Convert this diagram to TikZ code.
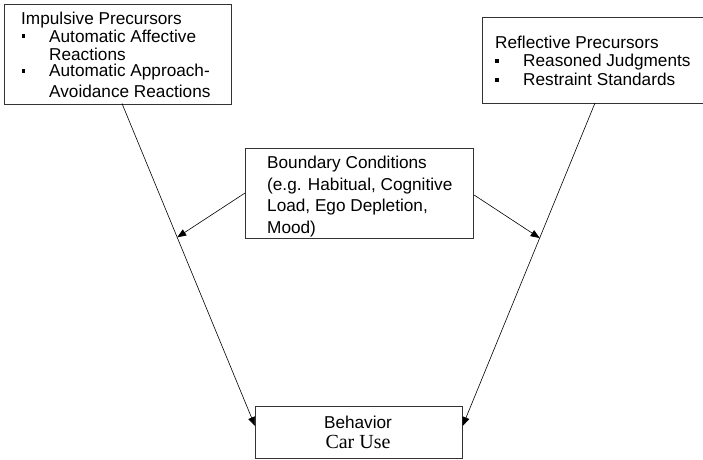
\documentclass[tikz,border=0pt]{standalone}
\usepackage{fontspec}
\setmainfont{Liberation Sans}
\newfontfamily\timesfont{Liberation Serif}
\usetikzlibrary{arrows.meta,calc}
\begin{document}
\begin{tikzpicture}[x=1pt,y=-1pt,
  boxframe/.style={draw=black!80,line width=1.1pt,inner sep=0pt,anchor=north west},
  txt/.style={anchor=base west,inner sep=0pt,font=\fontsize{17.2}{20}\selectfont},
  ctxt/.style={anchor=base,inner sep=0pt,font=\fontsize{17.2}{20}\selectfont},
  bul/.style={fill=black,inner sep=0pt,minimum size=3.6pt},
  link/.style={line width=0.6pt,-{Triangle[length=9pt,width=7pt]}}]
\useasboundingbox (0,0) rectangle (703,459);

% Impulsive precursors
\node[boxframe,minimum width=227,minimum height=99.5] (imp) at (4,4) {};
\node[txt] (imp1) at (21,24) {Impulsive Precursors};
\node[bul] (impb1) at (23.5,36) {};
\node[txt] (imp2) at (49,42) {Automatic Affective};
\node[txt] (imp3) at (49,60) {Reactions};
\node[bul] (impb2) at (23.5,71) {};
\node[txt] (imp4) at (49,76.5) {Automatic Approach-};
\node[txt] (imp5) at (49,97) {Avoidance Reactions};

% Reflective precursors
\node[boxframe,minimum width=224,minimum height=86] (ref) at (482,17) {};
\node[txt] (ref1) at (495,48) {Reflective Precursors};
\node[bul] (refb1) at (497,61) {};
\node[txt] (ref2) at (523,66) {Reasoned Judgments};
\node[bul] (refb2) at (497,80) {};
\node[txt] (ref3) at (523,85) {Restraint Standards};

% Boundary conditions
\node[boxframe,minimum width=228,minimum height=90] (bc) at (245,148) {};
\node[txt] (bc1) at (267,168) {Boundary Conditions};
\node[txt] (bc2) at (267,190) {(e.g. Habitual, Cognitive};
\node[txt] (bc3) at (267,211.5) {Load, Ego Depletion,};
\node[txt] (bc4) at (267,233) {Mood)};

% Behavior
\node[boxframe,minimum width=206.5,minimum height=52] (beh) at (255,406) {};
\node[ctxt] (beh1) at (358,428) {Behavior};
\node[ctxt,font=\fontsize{20}{22}\timesfont] (beh2) at (358,448.5) {Car Use};

% connector end points on the frames
\coordinate (impout) at (122,103.5);
\coordinate (refout) at (595,103);
\coordinate (behL) at ([yshift=-20pt]beh.north west);
\coordinate (behR) at ([yshift=-20pt]beh.north east);
\coordinate (bcL) at ([yshift=-45pt]bc.north west);
\coordinate (bcR) at ([yshift=-47pt]bc.north east);

\draw[link] (impout) -- (behL);
\draw[link] (refout) -- (behR);
\draw[link] (bcL) -- ($(impout)!0.415!(behL)$);
\draw[link] (bcR) -- ($(refout)!0.418!(behR)$);
\end{tikzpicture}
\end{document}
